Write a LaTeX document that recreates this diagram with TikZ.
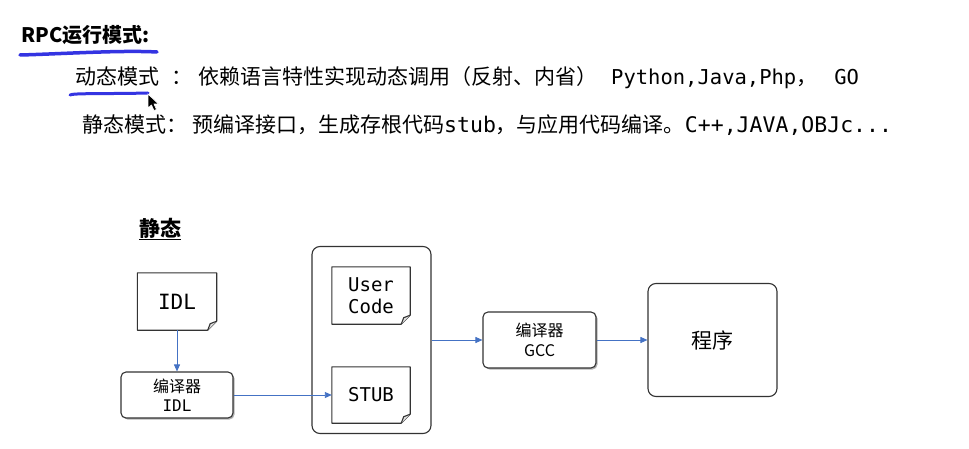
\documentclass[tikz,border=0pt]{standalone}
\usepackage{fontspec}
\setmainfont{Noto Sans CJK SC}
\newfontfamily\mono{DejaVu Sans Mono}
\usetikzlibrary{arrows.meta,shadows}
\definecolor{boxline}{HTML}{333333}
\definecolor{flow}{HTML}{4472C4}
\definecolor{pen}{HTML}{3434E2}
\newcommand\docoutline[1]{%
  \draw[docline] (#1.north west) -- (#1.north east) -- ([yshift=9pt]#1.south east) -- ([xshift=-9pt]#1.south east) -- (#1.south west) -- cycle;
  \draw[docline,fill=black!12] ([yshift=9pt]#1.south east) -- ([xshift=-6.5pt,yshift=6.5pt]#1.south east) -- ([xshift=-9pt]#1.south east);
}
\begin{document}
\begin{tikzpicture}[x=1pt,y=-1pt,
  docline/.style={draw=boxline,line width=1.1pt,line join=round},
  docbox/.style={minimum width=78pt,minimum height=57pt,inner sep=0pt,align=center,font=\mono\fontsize{19pt}{22pt}\selectfont},
  procbox/.style={draw=boxline,line width=1.1pt,rounded corners=5pt,fill=white,align=center,inner sep=0pt,
    drop shadow={shadow xshift=1.5pt,shadow yshift=-1.5pt,opacity=0.3,fill=black}},
  plainbox/.style={draw=boxline,line width=1.1pt,rounded corners=8pt,fill=white,align=center,inner sep=0pt},
  flowarrow/.style={-{Triangle[length=7pt,width=6pt]},draw=flow,line width=0.9pt},
  penstroke/.style={draw=pen,line width=3.5pt,line cap=round},
  cjktext/.style={anchor=west,inner sep=0pt,font=\fontsize{21pt}{25pt}\selectfont}
]
\useasboundingbox (0,0) rectangle (969,449);
\fill[white] (0,0) rectangle (969,449);

% header text
\node[anchor=west,inner sep=0pt,font=\bfseries\fontsize{20pt}{24pt}\selectfont] (title) at (21,35) {RPC运行模式:};
\draw[penstroke] (20,55) .. controls (60,54) and (120,50) .. (157,52);

\node[cjktext] (dyn) at (75,78) {动态模式\hspace{12pt}：\hspace{6pt}依赖语言特性实现动态调用（反射、内省）\hspace{14pt}{\mono\fontsize{20.5pt}{25pt}\selectfont Python,Java,Php}，\hspace{17pt}{\mono\fontsize{20.5pt}{25pt}\selectfont GO}};
\draw[penstroke,line width=3pt] (70,95) .. controls (72,93) and (110,94) .. (148,93);
\filldraw[fill=black,draw=white,line width=0.6pt] (148,94) -- (148,108) -- (151.5,105) -- (154,110.5) -- (156.5,109.5) -- (154,104) -- (158.5,104) -- cycle;

\node[cjktext] (sta) at (82,125) {静态模式：\hspace{5pt}预编译接口，生成存根代码{\mono\fontsize{21.5pt}{25pt}\selectfont stub}，与应用代码编译。{\mono\fontsize{21.5pt}{25pt}\selectfont C++,JAVA,OBJc...}};

% diagram
\node[inner sep=0pt,font=\bfseries\fontsize{21pt}{25pt}\selectfont] (head) at (160,229) {\underline{静态}};

\node[docbox,font=\mono\fontsize{21pt}{24pt}\selectfont,minimum width=79pt] (idl) at (177,301.5) {IDL};
\docoutline{idl}

\node[procbox,minimum width=112pt,minimum height=46pt,font=\fontsize{16pt}{19pt}\selectfont] (cidl) at (177,395) {编译器\\{\mono IDL}};

\node[plainbox,minimum width=119pt,minimum height=187pt] (cont) at (371.5,340) {};

\node[docbox] (user) at (371,295.5) {User\\Code};
\docoutline{user}
\node[docbox,minimum height=56pt] (stub) at (371,395) {STUB};
\docoutline{stub}

\node[procbox,minimum width=113pt,minimum height=56pt,font=\fontsize{16pt}{20pt}\selectfont] (gcc) at (539.5,340) {编译器\\GCC};

\node[plainbox,minimum width=129pt,minimum height=113pt,font=\fontsize{21pt}{25pt}\selectfont] (prog) at (712.5,340) {程序};

\draw[flowarrow] (idl) -- (cidl);
\draw[flowarrow] (cidl) -- (stub);
\draw[flowarrow] (cont) -- (gcc);
\draw[flowarrow] (gcc) -- (prog);
\end{tikzpicture}
\end{document}
